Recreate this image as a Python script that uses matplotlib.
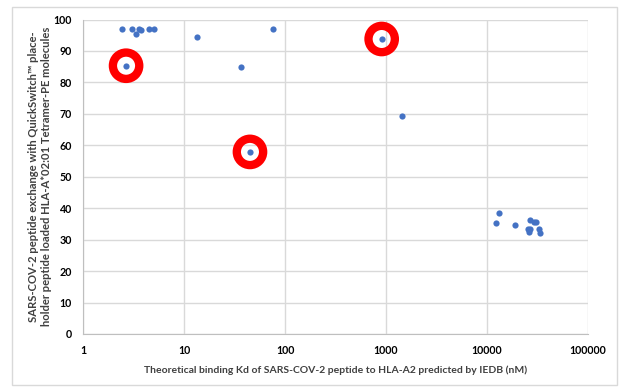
import matplotlib.pyplot as plt
from matplotlib.patches import Rectangle

plt.rcParams['font.family'] = ['Lato', 'DejaVu Sans']

# theoretical Kd (nM) and % exchange
kd = [2.45, 3.06, 3.32, 3.61, 3.75, 4.53, 5.05, 2.67, 13.5, 76.6, 36.4, 45, 906, 1430,
      13150, 12190, 18800, 26700, 29400, 30300, 25300, 26700, 25900, 33000, 33700]
exchange = [96.9, 97.1, 95.3, 97.1, 96.7, 97.1, 97.1, 85.3, 94.3, 96.9, 85.0, 57.9, 93.8, 69.4,
            38.6, 35.2, 34.8, 36.3, 35.7, 35.5, 33.5, 33.3, 32.4, 33.5, 32.2]

# highlighted peptides (red rings)
hl_kd = [2.67, 45, 906]
hl_exchange = [85.3, 57.9, 93.8]

fig = plt.figure(figsize=(6.27, 3.9), dpi=100)
fig.patches.append(Rectangle((12 / 627, 1 - 385 / 390), 605 / 627, 378 / 390,
                             transform=fig.transFigure, fill=False,
                             edgecolor='#D9D9D9', linewidth=1))

ax = fig.add_axes([83 / 627, 1 - 334 / 390, 505 / 627, 314.5 / 390])
ax.scatter(kd, exchange, s=20, color='#4472C4', zorder=3, linewidths=0)
ax.scatter(hl_kd, hl_exchange, s=360, facecolors='none', edgecolors='#FF0000',
           linewidths=6, zorder=4)

ax.set_xscale('log')
ax.set_xlim(1, 100000)
ax.set_ylim(0, 100)
ax.set_xticks([1, 10, 100, 1000, 10000, 100000])
ax.set_xticklabels(['1', '10', '100', '1000', '10000', '100000'])
ax.set_yticks(range(0, 101, 10))
ax.minorticks_off()
ax.grid(True, color='#D9D9D9', linewidth=1)
ax.set_axisbelow(True)
for s in ['top', 'right']:
    ax.spines[s].set_visible(False)
for s in ['left', 'bottom']:
    ax.spines[s].set_color('#BFBFBF')
ax.tick_params(length=0, labelsize=7.7, pad=8)
for lab in ax.get_xticklabels() + ax.get_yticklabels():
    lab.set_fontweight('bold')

ax.set_xlabel('Theoretical binding Kd of SARS-COV-2 peptide to HLA-A2 predicted by IEDB (nM)',
              fontsize=7.5, fontweight='bold', color='#404040', labelpad=7)
ax.set_ylabel('SARS-COV-2 peptide exchange with QuickSwitch\u2122 place-\n'
              'holder peptide loaded HLA-A*02:01 Tetramer-PE molecules',
              fontsize=8.1, fontweight='bold', color='#404040', labelpad=1)

fig.savefig('out.png', dpi=100)
